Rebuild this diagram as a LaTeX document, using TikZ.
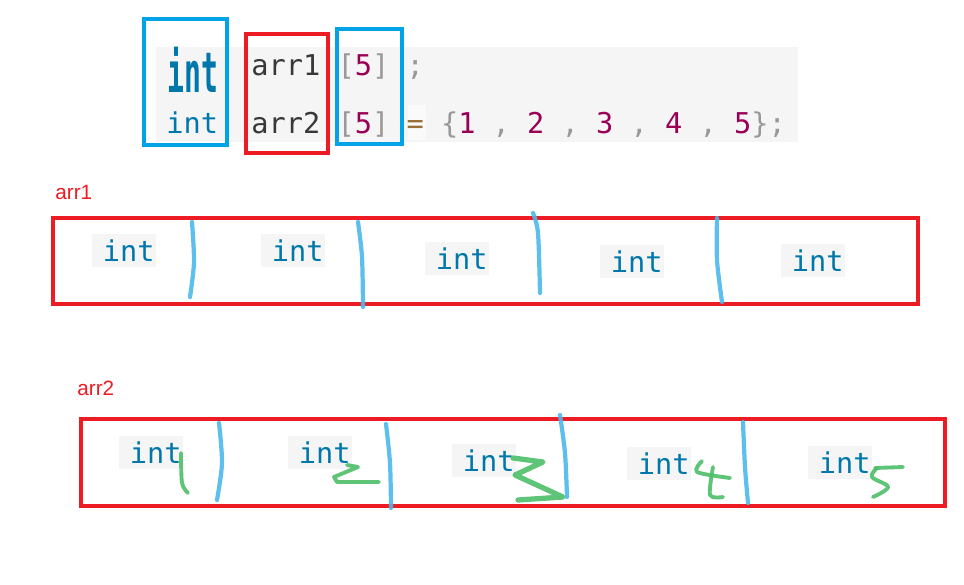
\documentclass[tikz,border=0pt]{standalone}
\usepackage{fontspec}
\usepackage{xcolor}
\usepackage{tikz}
\usetikzlibrary{positioning}
\newfontfamily\codefamily{DejaVu Sans Mono}
\newfontfamily\labelfamily{Liberation Sans}
\newcommand{\codefont}{\codefamily\fontsize{16.3}{19}\selectfont}
\newcommand{\labelfont}{\labelfamily\fontsize{11.8}{14}\selectfont}
\definecolor{mkred}{HTML}{ED1C24}
\definecolor{mkblue}{HTML}{00A2E8}
\definecolor{codegray}{HTML}{F5F5F5}
\definecolor{kwblue}{HTML}{0077AA}
\definecolor{ink}{HTML}{383838}
\definecolor{punc}{HTML}{999999}
\definecolor{num}{HTML}{990055}
\definecolor{oper}{HTML}{9A6E3A}
\definecolor{penblue}{HTML}{4AB8EA}
\definecolor{pengreen}{HTML}{4DBE68}
\newcommand{\kw}[1]{\textcolor{kwblue}{#1}}
\newcommand{\pu}[1]{\textcolor{punc}{#1}}
\newcommand{\nm}[1]{\textcolor{num}{#1}}
\tikzset{
  codebg/.style={fill=codegray, draw=none},
  markbox/.style={draw=mkblue, line width=1.9pt},
  namebox/.style={draw=mkred, line width=1.9pt},
  arrbox/.style={draw=mkred, line width=1.9pt},
  codetxt/.style={font=\codefont, text=ink, anchor=base west, inner sep=0pt},
  celltxt/.style={font=\codefont, text=kwblue, fill=codegray, anchor=west,
    inner xsep=0pt, inner ysep=0pt, minimum height=0.66cm},
  arrlabel/.style={font=\labelfont, text=mkred, anchor=base west, inner sep=0pt},
  divider/.style={draw=penblue, line width=2.4pt, line cap=round, opacity=0.9},
  digit/.style={draw=pengreen, line width=2.2pt, line cap=round, line join=round, opacity=0.9}
}
\newcommand{\cellint}{\kern6pt int\kern1pt}

\begin{document}
\begin{tikzpicture}[x=0.02cm, y=-0.02cm]
    \useasboundingbox (0,0) rectangle (964,585);
    % code snippet
    \fill[codebg] (156,47) rectangle (798,142);
    \fill[white, opacity=0.55] (408,105) rectangle (426,140);
    \node[codetxt, text=kwblue] (int1) at (167,92) {\scalebox{0.98}[1.95]{\bfseries int}};
    \node[codetxt] (decl1) at (251,75) {arr1 \pu{[}\nm{5}\pu{]} \pu{;}};
    \node[codetxt, text=kwblue] (int2) at (166,133) {int};
    \node[codetxt] (decl2) at (251,133)
      {arr2 \pu{[}\nm{5}\pu{]} \textcolor{oper}{=} \pu{\{}\nm{1} \pu{,} \nm{2} \pu{,} \nm{3} \pu{,} \nm{4} \pu{,} \nm{5}\pu{\};}};
    \draw[markbox] (144,19) rectangle (227,145);
    \draw[namebox] (246,34) rectangle (328,153);
    \draw[markbox] (337,29) rectangle (402,144);

    % arr1
    \node[arrlabel] (lab1) at (55,199) {arr1};
    \draw[arrbox] (53,218) rectangle (918,304);
    \node[celltxt] (a1) at (92,250.5) {\cellint};
    \node[celltxt] (a2) at (261,250.5) {\cellint};
    \node[celltxt] (a3) at (425,258.5) {\cellint};
    \node[celltxt] (a4) at (600,261.5) {\cellint};
    \node[celltxt] (a5) at (781,260.5) {\cellint};
    \draw[divider] plot[smooth] coordinates {(192,222) (194,262) (190,297)};
    \draw[divider] plot[smooth] coordinates {(358,222) (362,257) (363,307)};
    \draw[divider] plot[smooth] coordinates {(533,213) (538,233) (540,293)};
    \draw[divider] plot[smooth] coordinates {(717,218) (717,260) (722,302)};

    % arr2
    \node[arrlabel] (lab2) at (77,395) {arr2};
    \draw[arrbox] (81,419) rectangle (945,506);
    \node[celltxt] (b1) at (119,452.5) {\cellint};
    \node[celltxt] (b2) at (288,452.5) {\cellint};
    \node[celltxt] (b3) at (452,460.5) {\cellint};
    \node[celltxt] (b4) at (627,463.5) {\cellint};
    \node[celltxt] (b5) at (808,462.5) {\cellint};
    \draw[divider] plot[smooth] coordinates {(219,423) (222,463) (217,500)};
    \draw[divider] plot[smooth] coordinates {(386,424) (390,463) (391,508)};
    \draw[divider] plot[smooth] coordinates {(560,415) (565,453) (567,497)};
    \draw[divider] plot[smooth] coordinates {(743,422) (745,467) (748,503)};
    % handwritten values
    \draw[digit] plot[smooth, tension=0.5] coordinates {(181,453) (182,483) (188,493)};
    \draw[digit] plot coordinates {(347,465) (358,467) (334,477) (337,482) (379,482)};
    \draw[digit, line width=3pt] plot coordinates {(513,458) (543,462) (515,475) (563,497) (518,500)};
    \draw[digit] plot[smooth, tension=0.5] coordinates {(702,461) (697,472) (730,478)};
    \draw[digit] plot[smooth, tension=0.5] coordinates {(713,467) (710,495) (723,497)};
    \draw[digit] (875,468) -- (903,467);
    \draw[digit] plot[smooth, tension=0.6] coordinates {(877,468) (872,477) (888,487) (873,497)};
\end{tikzpicture}
\end{document}
